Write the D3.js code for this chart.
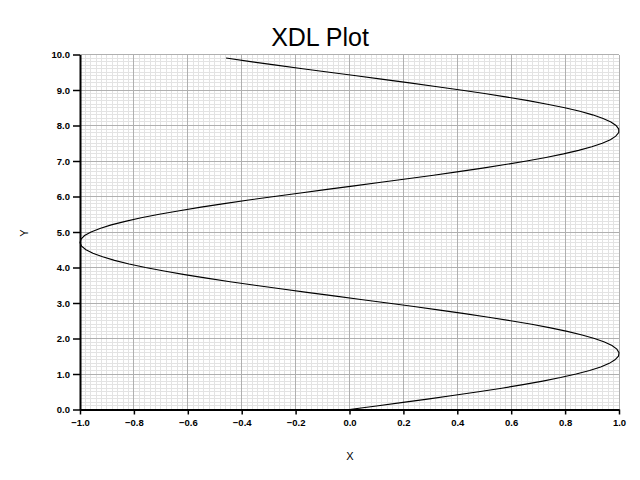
<!DOCTYPE html>
<html><head><meta charset="utf-8">
<script src="https://cdn.jsdelivr.net/npm/d3@7"></script>
<style>body{margin:0;background:#fff}svg{display:block}</style>
</head><body>
<svg id="c" width="640" height="480"></svg>
<script>
const title = "XDL Plot";
const xLabel = "X";
const yLabel = "Y";
const xTicks = [-1.0,-0.8,-0.6,-0.4,-0.2,0.0,0.2,0.4,0.6,0.8,1.0];
const yTicks = [0,1,2,3,4,5,6,7,8,9,10];
const yValues = [0.0,0.1,0.2,0.3,0.4,0.5,0.6,0.7,0.8,0.9,1.0,1.1,1.2,1.3,1.4,1.5,1.6,1.7,1.8,1.9,
2.0,2.1,2.2,2.3,2.4,2.5,2.6,2.7,2.8,2.9,3.0,3.1,3.2,3.3,3.4,3.5,3.6,3.7,3.8,3.9,
4.0,4.1,4.2,4.3,4.4,4.5,4.6,4.7,4.8,4.9,5.0,5.1,5.2,5.3,5.4,5.5,5.6,5.7,5.8,5.9,
6.0,6.1,6.2,6.3,6.4,6.5,6.6,6.7,6.8,6.9,7.0,7.1,7.2,7.3,7.4,7.5,7.6,7.7,7.8,7.9,
8.0,8.1,8.2,8.3,8.4,8.5,8.6,8.7,8.8,8.9,9.0,9.1,9.2,9.3,9.4,9.5,9.6,9.7,9.8,9.9];
const xValues = [0.000,0.100,0.199,0.296,0.389,0.479,0.565,0.644,0.717,0.783,
0.841,0.891,0.932,0.964,0.985,0.998,1.000,0.992,0.974,0.946,
0.909,0.863,0.808,0.746,0.676,0.598,0.516,0.427,0.335,0.239,
0.141,0.042,-0.058,-0.158,-0.256,-0.351,-0.443,-0.530,-0.612,-0.688,
-0.757,-0.818,-0.872,-0.916,-0.952,-0.978,-0.994,-1.000,-0.996,-0.983,
-0.959,-0.926,-0.884,-0.832,-0.773,-0.706,-0.631,-0.551,-0.465,-0.374,
-0.279,-0.182,-0.083,0.017,0.117,0.215,0.312,0.405,0.494,0.578,
0.657,0.729,0.794,0.850,0.899,0.938,0.968,0.988,0.999,0.999,
0.989,0.970,0.941,0.902,0.855,0.799,0.734,0.663,0.585,0.501,
0.412,0.319,0.223,0.125,0.025,-0.075,-0.174,-0.272,-0.367,-0.458];

const svg = d3.select("#c");
const L = 80, R = 619, T = 54.5, B = 409.5;
const x = d3.scaleLinear().domain([-1, 1]).range([L, R]);
const y = d3.scaleLinear().domain([0, 10]).range([B, T]);

const grid = svg.append("g").attr("shape-rendering","crispEdges");
grid.selectAll(".mx").data(d3.range(0,101).map(i => -1 + i*0.02)).enter().append("line")
  .attr("x1", d => x(d)).attr("x2", d => x(d)).attr("y1", T).attr("y2", B)
  .attr("stroke", "#e3e3e3").attr("stroke-width", 1);
grid.selectAll(".my").data(d3.range(0,101).map(i => i*0.1)).enter().append("line")
  .attr("y1", d => y(d)).attr("y2", d => y(d)).attr("x1", L).attr("x2", R)
  .attr("stroke", "#e3e3e3").attr("stroke-width", 1);
grid.selectAll(".Mx").data(xTicks).enter().append("line")
  .attr("x1", d => x(d)).attr("x2", d => x(d)).attr("y1", T).attr("y2", B)
  .attr("stroke", "#b0b0b0").attr("stroke-width", 1);
grid.selectAll(".My").data(yTicks).enter().append("line")
  .attr("y1", d => y(d)).attr("y2", d => y(d)).attr("x1", L).attr("x2", R)
  .attr("stroke", "#b0b0b0").attr("stroke-width", 1);

const line = d3.line().x((d,i) => x(xValues[i])).y(d => y(d));
svg.append("path").datum(yValues).attr("d", line)
  .attr("fill","none").attr("stroke","#000").attr("stroke-width",1.1);

const fmt = d3.format(".1f");
const xAxis = svg.append("g").attr("transform", `translate(0,${B})`)
  .call(d3.axisBottom(x).tickValues(xTicks).tickFormat(fmt).tickSize(5).tickSizeOuter(0).tickPadding(5));
const yAxis = svg.append("g").attr("transform", `translate(${L},0)`)
  .call(d3.axisLeft(y).tickValues(yTicks).tickFormat(fmt).tickSize(7).tickSizeOuter(0).tickPadding(3));
[xAxis, yAxis].forEach(a => {
  a.select(".domain").attr("stroke","#000").attr("stroke-width",2);
  a.selectAll(".tick line").attr("stroke","#000").attr("stroke-width",1.5);
  a.selectAll("text").attr("font-family","'Liberation Sans', Arial, sans-serif")
    .attr("font-size", 9.5).attr("font-weight","bold").attr("fill","#000");
});

svg.append("text").attr("x", 320).attr("y", 46).attr("text-anchor","middle")
  .attr("font-family","'Liberation Sans', Arial, sans-serif").attr("font-size", 25)
  .text(title);
svg.append("text").attr("x", 350).attr("y", 460).attr("text-anchor","middle")
  .attr("font-family","'Liberation Sans', Arial, sans-serif").attr("font-size", 11)
  .text(xLabel);
svg.append("text").attr("transform","translate(28,233) rotate(-90)").attr("text-anchor","middle")
  .attr("font-family","'Liberation Sans', Arial, sans-serif").attr("font-size", 11)
  .text(yLabel);
</script>
</body></html>
